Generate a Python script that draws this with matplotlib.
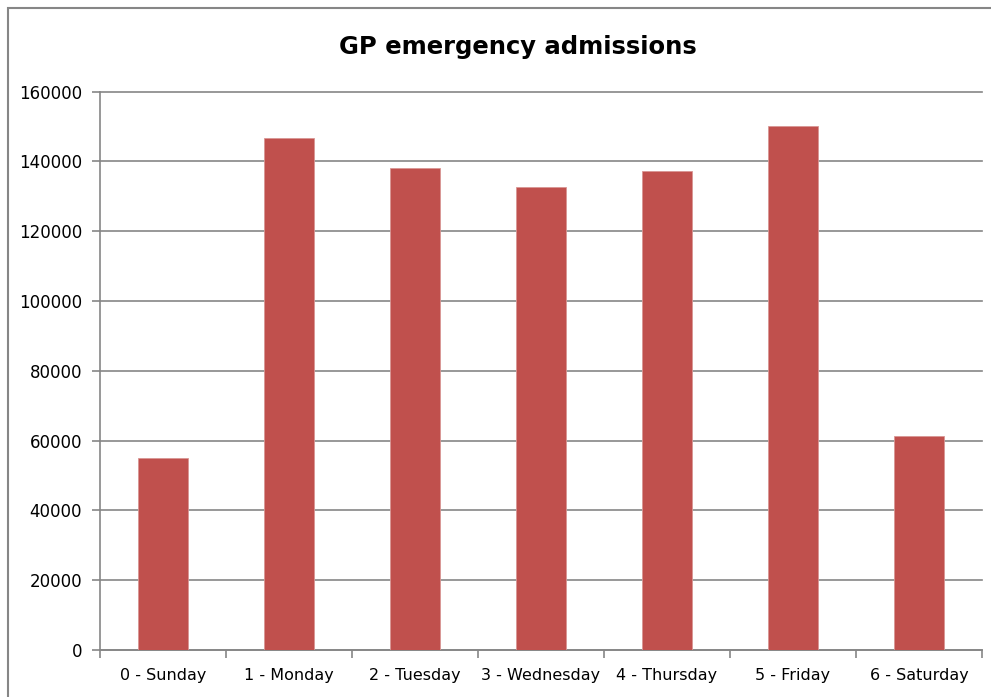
import matplotlib.pyplot as plt
from matplotlib.patches import Rectangle
import numpy as np

days = ["0 - Sunday", "1 - Monday", "2 - Tuesday", "3 - Wednesday",
        "4 - Thursday", "5 - Friday", "6 - Saturday"]
admissions = [55000, 146800, 138100, 132700, 137300, 150100, 61200]
yticks = [0, 20000, 40000, 60000, 80000, 100000, 120000, 140000, 160000]

grey = "#868686"
bar_red = "#C0504D"

plt.rcParams['font.family'] = ['DejaVu Sans']

fig = plt.figure(figsize=(9.91, 6.97), dpi=100)
ax = fig.add_axes([100 / 991, 47 / 697, 882 / 991, 558.4 / 697])

# outer chart border (only top and left visible, rest cropped)
top = 1 - 8 / 697
fig.patches.append(Rectangle((8 / 991, -0.5), 1.5, top + 0.5,
                             transform=fig.transFigure, fill=False,
                             edgecolor=grey, linewidth=1.5))

x = np.arange(len(days))
ax.bar(x, admissions, width=0.4, color=bar_red, edgecolor="#D99694",
       linewidth=0.6, zorder=3)

ax.set_xlim(-0.5, len(days) - 0.5)
ax.set_ylim(0, 160000)
ax.set_yticks(yticks)
ax.set_yticklabels([str(v) for v in yticks])
ax.yaxis.grid(True, color=grey, linewidth=1.2, zorder=0)
for gl in ax.get_ygridlines():
    gl.set_clip_on(False)

ax.set_xticks(x)
ax.set_xticklabels(days)
ax.set_xticks(np.arange(-0.5, len(days)), minor=True)
ax.tick_params(axis='x', which='major', length=0, pad=13, labelsize=11.5)
ax.tick_params(axis='x', which='minor', length=6, width=1.2, color=grey)
ax.tick_params(axis='y', length=6, width=1.2, color=grey, pad=7, labelsize=12)

for s in ["top", "right"]:
    ax.spines[s].set_visible(False)
for s in ["left", "bottom"]:
    ax.spines[s].set_color(grey)
    ax.spines[s].set_linewidth(1.2)

fig.text(518 / 991, 1 - 47 / 697, "GP emergency admissions", ha="center",
         va="center", fontsize=17.5, fontweight="bold")

fig.savefig("out.png", dpi=100)
